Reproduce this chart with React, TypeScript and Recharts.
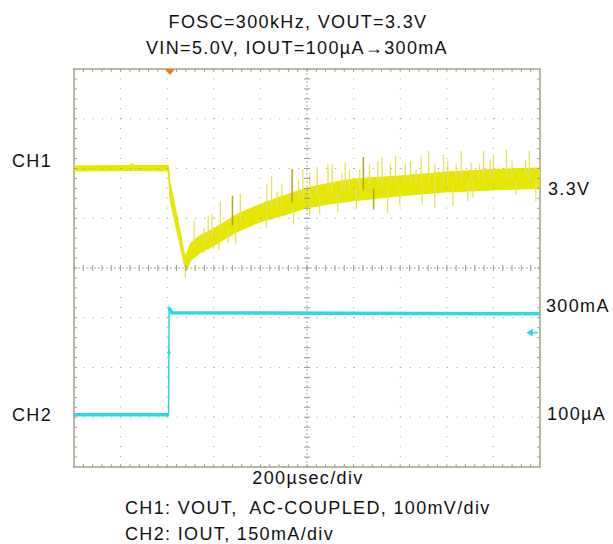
import React from 'react';
import { ComposedChart, XAxis, YAxis, Line, Area, Scatter, ReferenceLine, ReferenceArea } from 'recharts';

// scope screen: 10 x-divisions (200µs/div), 8 y-divisions, values in divisions from centre

// CH1 VOUT envelope (lower / upper edge of the noisy trace)
const ch1X = [0, 1.2, 1.25, 1.3, 2.02, 2.03, 2.06, 2.2, 2.38, 2.42, 2.5, 2.7, 3.0, 3.5, 4.0, 4.5, 5.0, 5.5, 6.0, 7.0, 8.0, 9.0, 10];
const ch1Lo = [1.95, 1.96, 1.96, 1.96, 1.95, 1.88, 1.38, 0.78, 0.02, -0.05, 0.15, 0.3, 0.45, 0.73, 0.93, 1.06, 1.21, 1.29, 1.35, 1.45, 1.53, 1.57, 1.6];
const ch1Hi = [2.05, 2.06, 2.11, 2.06, 2.06, 2.04, 1.72, 1.1, 0.24, 0.3, 0.5, 0.65, 0.79, 1.08, 1.28, 1.45, 1.61, 1.71, 1.79, 1.85, 1.93, 1.98, 2.01];

// CH1 ripple spikes: [x, from, to]
const ch1Spikes: [number, number, number][] = [
  [2.58, 0.4, 0.95], [2.79, 0.3, 0.81], [2.88, 0.56, 1.05], [2.96, 0.6, 1.09], [3.14, 0.7, 1.34],
  [3.57, 0.93, 1.49], [4.14, 1.14, 1.68], [4.24, 1.17, 1.84], [4.36, 1.21, 1.54], [4.46, 1.24, 1.68],
  [4.82, 1.35, 1.78], [4.91, 1.38, 1.98], [5.06, 1.42, 1.91], [5.22, 1.45, 2.03], [5.45, 1.49, 2.08],
  [5.54, 1.5, 2.08], [5.75, 1.53, 1.91], [5.82, 1.54, 2.11], [5.91, 1.56, 1.98], [6.13, 1.58, 1.98],
  [6.34, 1.59, 2.08], [6.52, 1.61, 2.15], [6.61, 1.62, 2.23], [6.79, 1.63, 2.08], [6.9, 1.64, 2.26],
  [7.11, 1.66, 2.1], [7.22, 1.67, 2.15], [7.34, 1.68, 1.98], [7.45, 1.69, 2.26], [7.61, 1.7, 2.35],
  [7.74, 1.71, 2.08], [7.93, 1.72, 2.28], [8.02, 1.73, 2.15], [8.2, 1.73, 2.08], [8.31, 1.74, 2.35],
  [8.52, 1.75, 2.11], [8.7, 1.76, 2.08], [8.79, 1.76, 2.35], [8.93, 1.77, 2.18], [9.0, 1.77, 2.28],
  [9.28, 1.78, 2.38], [9.4, 1.78, 2.15], [9.69, 1.79, 2.18], [9.77, 1.79, 2.35],
  [2.39, 0.1, -0.2], [3.11, 0.68, 0.37], [3.31, 0.8, 0.5], [3.47, 0.88, 0.47], [4.13, 1.14, 0.8],
  [4.71, 1.31, 0.87], [5.06, 1.42, 1.04], [5.27, 1.46, 1.07], [5.66, 1.52, 1.12], [6.06, 1.57, 1.17],
  [6.73, 1.63, 1.11], [6.99, 1.65, 1.27], [7.47, 1.69, 1.27], [7.74, 1.71, 1.21], [8.13, 1.73, 1.24],
  [8.45, 1.75, 1.34], [8.56, 1.75, 1.41], [9.49, 1.78, 1.47], [9.91, 1.8, 1.34],
];
const ch1DarkSpikes: [number, number, number][] = [
  [3.4, 0.85, 1.45], [4.68, 1.3, 1.99], [6.21, 1.58, 2.23], [6.43, 1.6, 1.17],
];

// CH2 IOUT step 100µA -> 300mA
const ch2X = [0, 2.03, 2.04, 2.1, 10];
const ch2Y = [-2.95, -2.95, -0.8, -0.9, -0.92];

const gridX = [1, 2, 3, 4, 6, 7, 8, 9];
const gridY = [-3, -2, -1, 1, 2, 3];
const minorX = Array.from({ length: 51 }, (_, i) => i / 5);
const minorY = Array.from({ length: 41 }, (_, i) => -4 + i / 5);

const bandData = ch1X.map((x, i) => ({ x, band: [ch1Lo[i], ch1Hi[i]] }));
const toSegments = (list: [number, number, number][]) =>
  list.flatMap(([x, a, b]) => [{ x, y: a }, { x, y: b }, { x, y: null }]);
const spikeData = toSegments(ch1Spikes);
const darkSpikeData = toSegments(ch1DarkSpikes);
const ch2Flat = [
  { x: ch2X[0], y: ch2Y[0] }, { x: ch2X[1], y: ch2Y[1] }, { x: ch2X[1], y: null },
  { x: ch2X[2], y: ch2Y[2] }, { x: ch2X[3], y: ch2Y[3] }, { x: ch2X[4], y: ch2Y[4] },
];
const ch2Data = ch2X.map((x, i) => ({ x, y: ch2Y[i] }));

const GRID = '#9c9c9c';
const FRAME = '#b9b9a2';
const YELLOW = '#e6e600';
const CYAN = '#2bd9e6';

const tick = (dir: 'v' | 'h' | 'down' | 'up' | 'right' | 'left', len = 3) => (p: any) => {
  const { cx, cy } = p;
  let x1 = cx, x2 = cx, y1 = cy, y2 = cy;
  if (dir === 'v') { y1 = cy - len; y2 = cy + len; }
  if (dir === 'h') { x1 = cx - len; x2 = cx + len; }
  if (dir === 'down') y2 = cy + len;
  if (dir === 'up') y2 = cy - len;
  if (dir === 'right') x2 = cx + len;
  if (dir === 'left') x2 = cx - len;
  return <line x1={x1} y1={y1} x2={x2} y2={y2} stroke={GRID} strokeWidth={1} />;
};

const triggerMark = (p: any) => (
  <polygon points={`${p.cx - 5},${p.cy} ${p.cx + 5},${p.cy} ${p.cx},${p.cy + 6}`} fill="#ee7a22" />
);
const cyanPlus = (p: any) => (
  <g stroke={CYAN} strokeWidth={1.5}>
    <line x1={p.cx - 2} y1={p.cy} x2={p.cx + 2} y2={p.cy} />
    <line x1={p.cx} y1={p.cy - 3} x2={p.cx} y2={p.cy + 3} />
  </g>
);
const cyanArrow = (p: any) => (
  <g stroke={CYAN} strokeWidth={1.5} fill={CYAN}>
    <line x1={p.cx - 4} y1={p.cy} x2={p.cx + 4} y2={p.cy} />
    <polygon points={`${p.cx - 6},${p.cy} ${p.cx - 2},${p.cy - 2.5} ${p.cx - 2},${p.cy + 2.5}`} />
  </g>
);

const textStyle: React.CSSProperties = {
  fontFamily: '"Liberation Sans", Arial, sans-serif', fontSize: 18, fill: '#111', whiteSpace: 'pre', letterSpacing: 1.35,
};

export default function App() {
  return (
    <div style={{ position: 'absolute', left: 0, top: 0, width: 613, height: 544, background: '#fff' }}>
      <ComposedChart width={613} height={544} margin={{ top: 69, right: 73, bottom: 77, left: 74 }}>
        <XAxis type="number" dataKey="x" domain={[0, 10]} hide allowDataOverflow />
        <YAxis type="number" domain={[-4, 4]} hide allowDataOverflow />
        {gridX.map((x) => (
          <ReferenceLine key={'gx' + x} x={x} stroke={GRID} strokeDasharray="1 8.94" />
        ))}
        {gridY.map((y) => (
          <ReferenceLine key={'gy' + y} y={y} stroke={GRID} strokeDasharray="1 8.33" />
        ))}
        <ReferenceLine x={5} stroke="#aaa" strokeDasharray="2 2" />
        <ReferenceLine y={0} stroke="#aaa" strokeDasharray="2 2" />
        <Scatter data={minorX.map((x) => ({ x, y: 0 }))} dataKey="y" shape={tick('v')} isAnimationActive={false} />
        <Scatter data={minorY.map((y) => ({ x: 5, y }))} dataKey="y" shape={tick('h')} isAnimationActive={false} />
        <Scatter data={minorX.map((x) => ({ x, y: 4 }))} dataKey="y" shape={tick('down')} isAnimationActive={false} />
        <Scatter data={minorX.map((x) => ({ x, y: -4 }))} dataKey="y" shape={tick('up')} isAnimationActive={false} />
        <Scatter data={minorY.map((y) => ({ x: 0, y }))} dataKey="y" shape={tick('right')} isAnimationActive={false} />
        <Scatter data={minorY.map((y) => ({ x: 10, y }))} dataKey="y" shape={tick('left')} isAnimationActive={false} />
        <ReferenceArea x1={0} x2={10} y1={-4} y2={4} fill="none" stroke={FRAME} strokeWidth={2} />

        <Line data={ch2Data} dataKey="y" type="linear" stroke={CYAN} strokeWidth={1.5} dot={false} isAnimationActive={false} />
        <Line data={ch2Flat} dataKey="y" type="linear" stroke={CYAN} strokeWidth={3.5} dot={false} connectNulls={false} isAnimationActive={false} />
        <Scatter data={[{ x: 2.04, y: -1.7 }]} dataKey="y" shape={cyanPlus} isAnimationActive={false} />
        <Scatter data={[{ x: 9.87, y: -1.3 }]} dataKey="y" shape={cyanArrow} isAnimationActive={false} />

        <Line data={spikeData} dataKey="y" type="linear" stroke="#e4e45a" strokeWidth={1.3} dot={false} connectNulls={false} isAnimationActive={false} />
        <Line data={darkSpikeData} dataKey="y" type="linear" stroke="#b3a514" strokeWidth={1.5} dot={false} connectNulls={false} isAnimationActive={false} />
        <Area data={bandData} dataKey="band" type="linear" stroke={YELLOW} strokeWidth={1} fill={YELLOW} fillOpacity={1} dot={false} isAnimationActive={false} />

        <Scatter data={[{ x: 2.06, y: 4 }]} dataKey="y" shape={triggerMark} isAnimationActive={false} />
      </ComposedChart>
      <svg width={613} height={544} style={{ position: 'absolute', left: 0, top: 0, pointerEvents: 'none' }}>
        <text x={298} y={28} textAnchor="middle" style={textStyle}>FOSC=300kHz, VOUT=3.3V</text>
        <text x={297} y={54} textAnchor="middle" style={textStyle}>VIN=5.0V, IOUT=100µA→300mA</text>
        <text x={12} y={167} style={textStyle}>CH1</text>
        <text x={12} y={421} style={textStyle}>CH2</text>
        <text x={548} y={195} style={textStyle}>3.3V</text>
        <text x={546} y={312} style={textStyle}>300mA</text>
        <text x={547} y={420} style={textStyle}>100µA</text>
        <text x={308} y={484} textAnchor="middle" style={textStyle}>200µsec/div</text>
        <text x={125} y={514} style={textStyle}>CH1: VOUT,  AC-COUPLED, 100mV/div</text>
        <text x={125} y={540} style={textStyle}>CH2: IOUT, 150mA/div</text>
      </svg>
    </div>
  );
}
